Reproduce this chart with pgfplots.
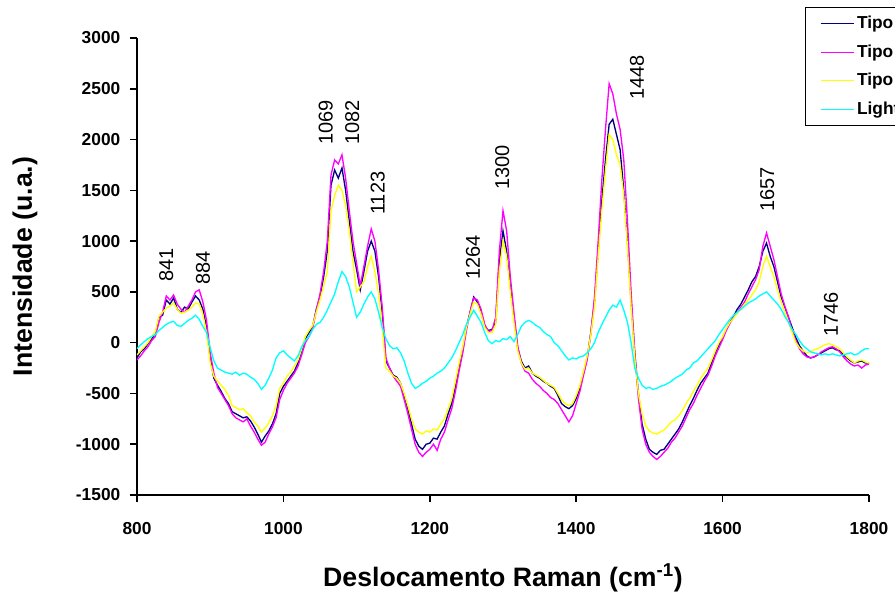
\documentclass[border=0pt]{standalone}
\usepackage{pgfplots}
\usepackage{pgfplotstable}
\pgfplotsset{compat=1.18}
\usepackage{fontspec}
\setmainfont{Liberation Sans}
\definecolor{navyc}{RGB}{0,0,128}
\definecolor{magc}{RGB}{255,0,255}
\definecolor{yelc}{RGB}{255,255,0}
\definecolor{cyac}{RGB}{0,255,255}
\pgfplotstableread{
x a b c d
800 -150 -170 -120 -60
805 -90 -130 -80 -20
810 -60 -80 -40 10
815 -10 -40 0 40
820 40 20 60 60
825 80 60 110 80
830 250 200 260 120
835 270 300 300 150
840 420 460 340 180
845 380 420 360 200
850 440 470 390 210
855 330 380 330 170
860 300 330 290 160
865 350 300 300 190
870 330 360 320 220
875 400 420 350 240
880 460 500 390 270
885 420 520 380 230
890 330 400 280 160
895 150 220 100 100
900 -150 -100 -200 -50
905 -350 -300 -330 -180
910 -420 -440 -380 -250
915 -480 -500 -420 -270
920 -550 -560 -460 -290
925 -600 -620 -520 -300
930 -680 -700 -620 -310
935 -700 -740 -640 -290
940 -720 -760 -660 -320
945 -740 -780 -650 -300
950 -730 -750 -690 -310
955 -770 -820 -720 -340
960 -830 -880 -780 -360
965 -900 -950 -820 -400
970 -980 -1010 -880 -460
975 -920 -980 -840 -420
980 -870 -900 -790 -350
985 -800 -830 -720 -270
990 -700 -740 -620 -150
995 -500 -560 -450 -100
1000 -430 -470 -400 -80
1005 -380 -400 -330 -120
1010 -330 -350 -290 -150
1015 -280 -300 -230 -180
1020 -200 -230 -170 -130
1025 -80 -120 -60 -40
1030 40 0 60 20
1035 100 60 120 60
1040 160 140 170 130
1045 330 320 300 180
1050 450 480 420 200
1055 650 700 560 250
1060 900 1000 700 320
1065 1550 1650 1300 400
1070 1700 1800 1450 480
1075 1620 1760 1550 600
1080 1720 1850 1500 700
1085 1500 1620 1350 650
1090 1200 1300 1100 550
1095 900 1000 800 400
1100 720 780 500 250
1105 520 560 550 300
1110 700 750 600 380
1115 900 950 750 450
1120 1000 1120 850 500
1125 900 1000 700 430
1130 650 720 480 300
1135 300 350 150 150
1140 -180 -150 -250 40
1145 -250 -250 -280 -30
1150 -320 -330 -330 -60
1155 -340 -380 -350 -50
1160 -400 -430 -400 -100
1165 -520 -560 -500 -180
1170 -650 -700 -620 -300
1175 -800 -850 -750 -400
1180 -950 -1000 -850 -450
1185 -1020 -1080 -880 -430
1190 -1050 -1120 -900 -400
1195 -1000 -1080 -870 -380
1200 -990 -1050 -880 -350
1205 -940 -1000 -850 -330
1210 -950 -1060 -860 -300
1215 -880 -950 -800 -280
1220 -820 -880 -750 -250
1225 -700 -760 -650 -200
1230 -600 -650 -550 -150
1235 -430 -480 -380 -80
1240 -250 -280 -200 0
1245 -80 -100 -40 80
1250 150 120 150 180
1255 300 300 280 250
1260 450 440 400 320
1265 400 420 380 260
1270 300 330 280 200
1275 160 180 150 100
1280 120 110 100 20
1285 130 120 100 -10
1290 200 250 180 20
1295 800 900 700 10
1300 1100 1300 1000 40
1305 900 1100 850 30
1310 550 650 500 60
1315 250 300 200 10
1320 -50 -30 -80 80
1325 -180 -200 -200 160
1330 -250 -280 -260 200
1335 -230 -300 -250 220
1340 -300 -360 -300 200
1345 -330 -400 -320 170
1350 -350 -430 -340 150
1355 -380 -470 -370 110
1360 -400 -500 -400 80
1365 -430 -540 -420 60
1370 -450 -560 -440 0
1375 -520 -600 -500 -30
1380 -600 -660 -560 -80
1385 -630 -720 -600 -130
1390 -650 -780 -620 -170
1395 -620 -720 -600 -150
1400 -550 -600 -520 -160
1405 -450 -480 -420 -140
1410 -300 -320 -280 -130
1415 -150 -170 -130 -100
1420 100 100 80 -60
1425 400 450 350 0
1430 900 1000 850 100
1435 1400 1600 1300 180
1440 1800 2100 1700 250
1445 2150 2550 2050 320
1450 2200 2450 2000 370
1455 2050 2250 1850 350
1460 1900 2100 1750 420
1465 1500 1800 1450 320
1470 1000 1200 950 200
1475 400 500 350 0
1480 -100 -100 -150 -250
1485 -500 -550 -500 -350
1490 -800 -850 -700 -420
1495 -950 -1000 -820 -450
1500 -1050 -1080 -870 -440
1505 -1080 -1120 -890 -460
1510 -1100 -1150 -900 -450
1515 -1060 -1120 -880 -430
1520 -1050 -1080 -860 -420
1525 -1000 -1040 -820 -400
1530 -950 -980 -780 -380
1535 -900 -940 -760 -350
1540 -850 -880 -720 -330
1545 -780 -820 -670 -310
1550 -700 -740 -600 -270
1555 -620 -660 -550 -250
1560 -550 -600 -480 -200
1565 -470 -520 -420 -180
1570 -400 -450 -350 -140
1575 -350 -380 -300 -100
1580 -300 -320 -250 -60
1585 -200 -230 -170 -20
1590 -100 -130 -80 20
1595 -20 -50 0 80
1600 50 30 60 130
1605 130 120 140 180
1610 200 190 200 230
1615 260 250 240 270
1620 330 300 290 300
1625 380 350 330 330
1630 450 400 380 360
1635 520 480 420 390
1640 600 550 470 410
1645 650 620 520 430
1650 750 720 600 460
1655 900 950 750 480
1660 980 1080 850 500
1665 850 950 750 460
1670 750 820 650 420
1675 600 650 520 380
1680 450 480 400 330
1685 350 360 300 260
1690 250 250 200 200
1695 150 120 100 130
1700 50 20 0 80
1705 -30 -60 -50 20
1710 -80 -110 -80 -30
1715 -130 -140 -100 -60
1720 -150 -150 -90 -90
1725 -140 -140 -70 -100
1730 -120 -120 -60 -110
1735 -100 -90 -40 -120
1740 -80 -70 -20 -110
1745 -60 -50 -10 -120
1750 -50 -40 -20 -110
1755 -70 -60 -40 -120
1760 -80 -90 -60 -130
1765 -120 -140 -100 -120
1770 -150 -180 -140 -110
1775 -180 -210 -170 -100
1780 -200 -230 -200 -120
1785 -190 -220 -180 -110
1790 -180 -250 -170 -80
1795 -200 -220 -190 -60
1800 -200 -210 -200 -60
}\data
\begin{document}
\begin{tikzpicture}
\begin{axis}[
  at={(0,0)}, anchor=south west,
  scale only axis, width=549pt, height=342.75pt,
  xmin=800, xmax=1800, ymin=-1500, ymax=3000,
  axis x line=bottom, axis y line=left,
  axis line style={-, line width=1.1pt, black},
  xtick={800,1000,...,1800}, ytick={-1500,-1000,...,3000},
  tick align=outside, major tick length=5pt,
  tick style={line width=1.1pt, black},
  scaled ticks=false,
  /pgf/number format/1000 sep={},
  /pgf/number format/assume math mode=true,
  ticklabel style={font=\bfseries\fontsize{13}{13}\selectfont},
  xticklabel style={yshift=-12pt},
  yticklabel style={xshift=-4pt},
  xlabel={Deslocamento Raman (cm\textsuperscript{-1})},
  ylabel={Intensidade (u.a.)},
  label style={font=\bfseries\fontsize{20}{20}\selectfont},
  xlabel style={at={(axis description cs:0.5,-0.181)}, anchor=center},
  ylabel style={at={(axis description cs:-0.153,0.5)}, anchor=center},
  legend style={at={(axis description cs:0.912,1.068)}, anchor=north west,
    draw=black, line width=0.9pt, fill=white,
    font=\bfseries\fontsize{13}{13}\selectfont,
    row sep=6.5pt, inner xsep=6pt, inner ysep=4.5pt},
  legend cell align=left,
  legend image code/.code={\path (0pt,0pt); \draw[#1, line width=0.8pt] (5pt,0pt) -- (30pt,0pt);},
]
\addplot[navyc, line width=1pt] table[x=x, y=a] {\data};
\addlegendentry{Tipo I}
\addplot[magc, line width=1pt] table[x=x, y=b] {\data};
\addlegendentry{Tipo II}
\addplot[yelc, line width=1pt] table[x=x, y=c] {\data};
\addlegendentry{Tipo III}
\addplot[cyac, line width=1pt] table[x=x, y=d] {\data};
\addlegendentry{Light}
\begin{scope}[every node/.style={rotate=90, anchor=west, font=\fontsize{15}{15}\selectfont, inner sep=0pt}]
\node at (axis cs:840,600) {841};
\node at (axis cs:890,570) {884};
\node at (axis cs:1058,1950) {1069};
\node at (axis cs:1094,1950) {1082};
\node at (axis cs:1129,1257) {1123};
\node at (axis cs:1259,617) {1264};
\node at (axis cs:1299,1503) {1300};
\node at (axis cs:1483,2390) {1448};
\node at (axis cs:1661,1287) {1657};
\node at (axis cs:1748,56) {1746};
\end{scope}
\end{axis}
\pgfresetboundingbox
\useasboundingbox (-102.75pt,-75.75pt) rectangle (568.5pt,371.25pt);
\end{tikzpicture}
\end{document}
